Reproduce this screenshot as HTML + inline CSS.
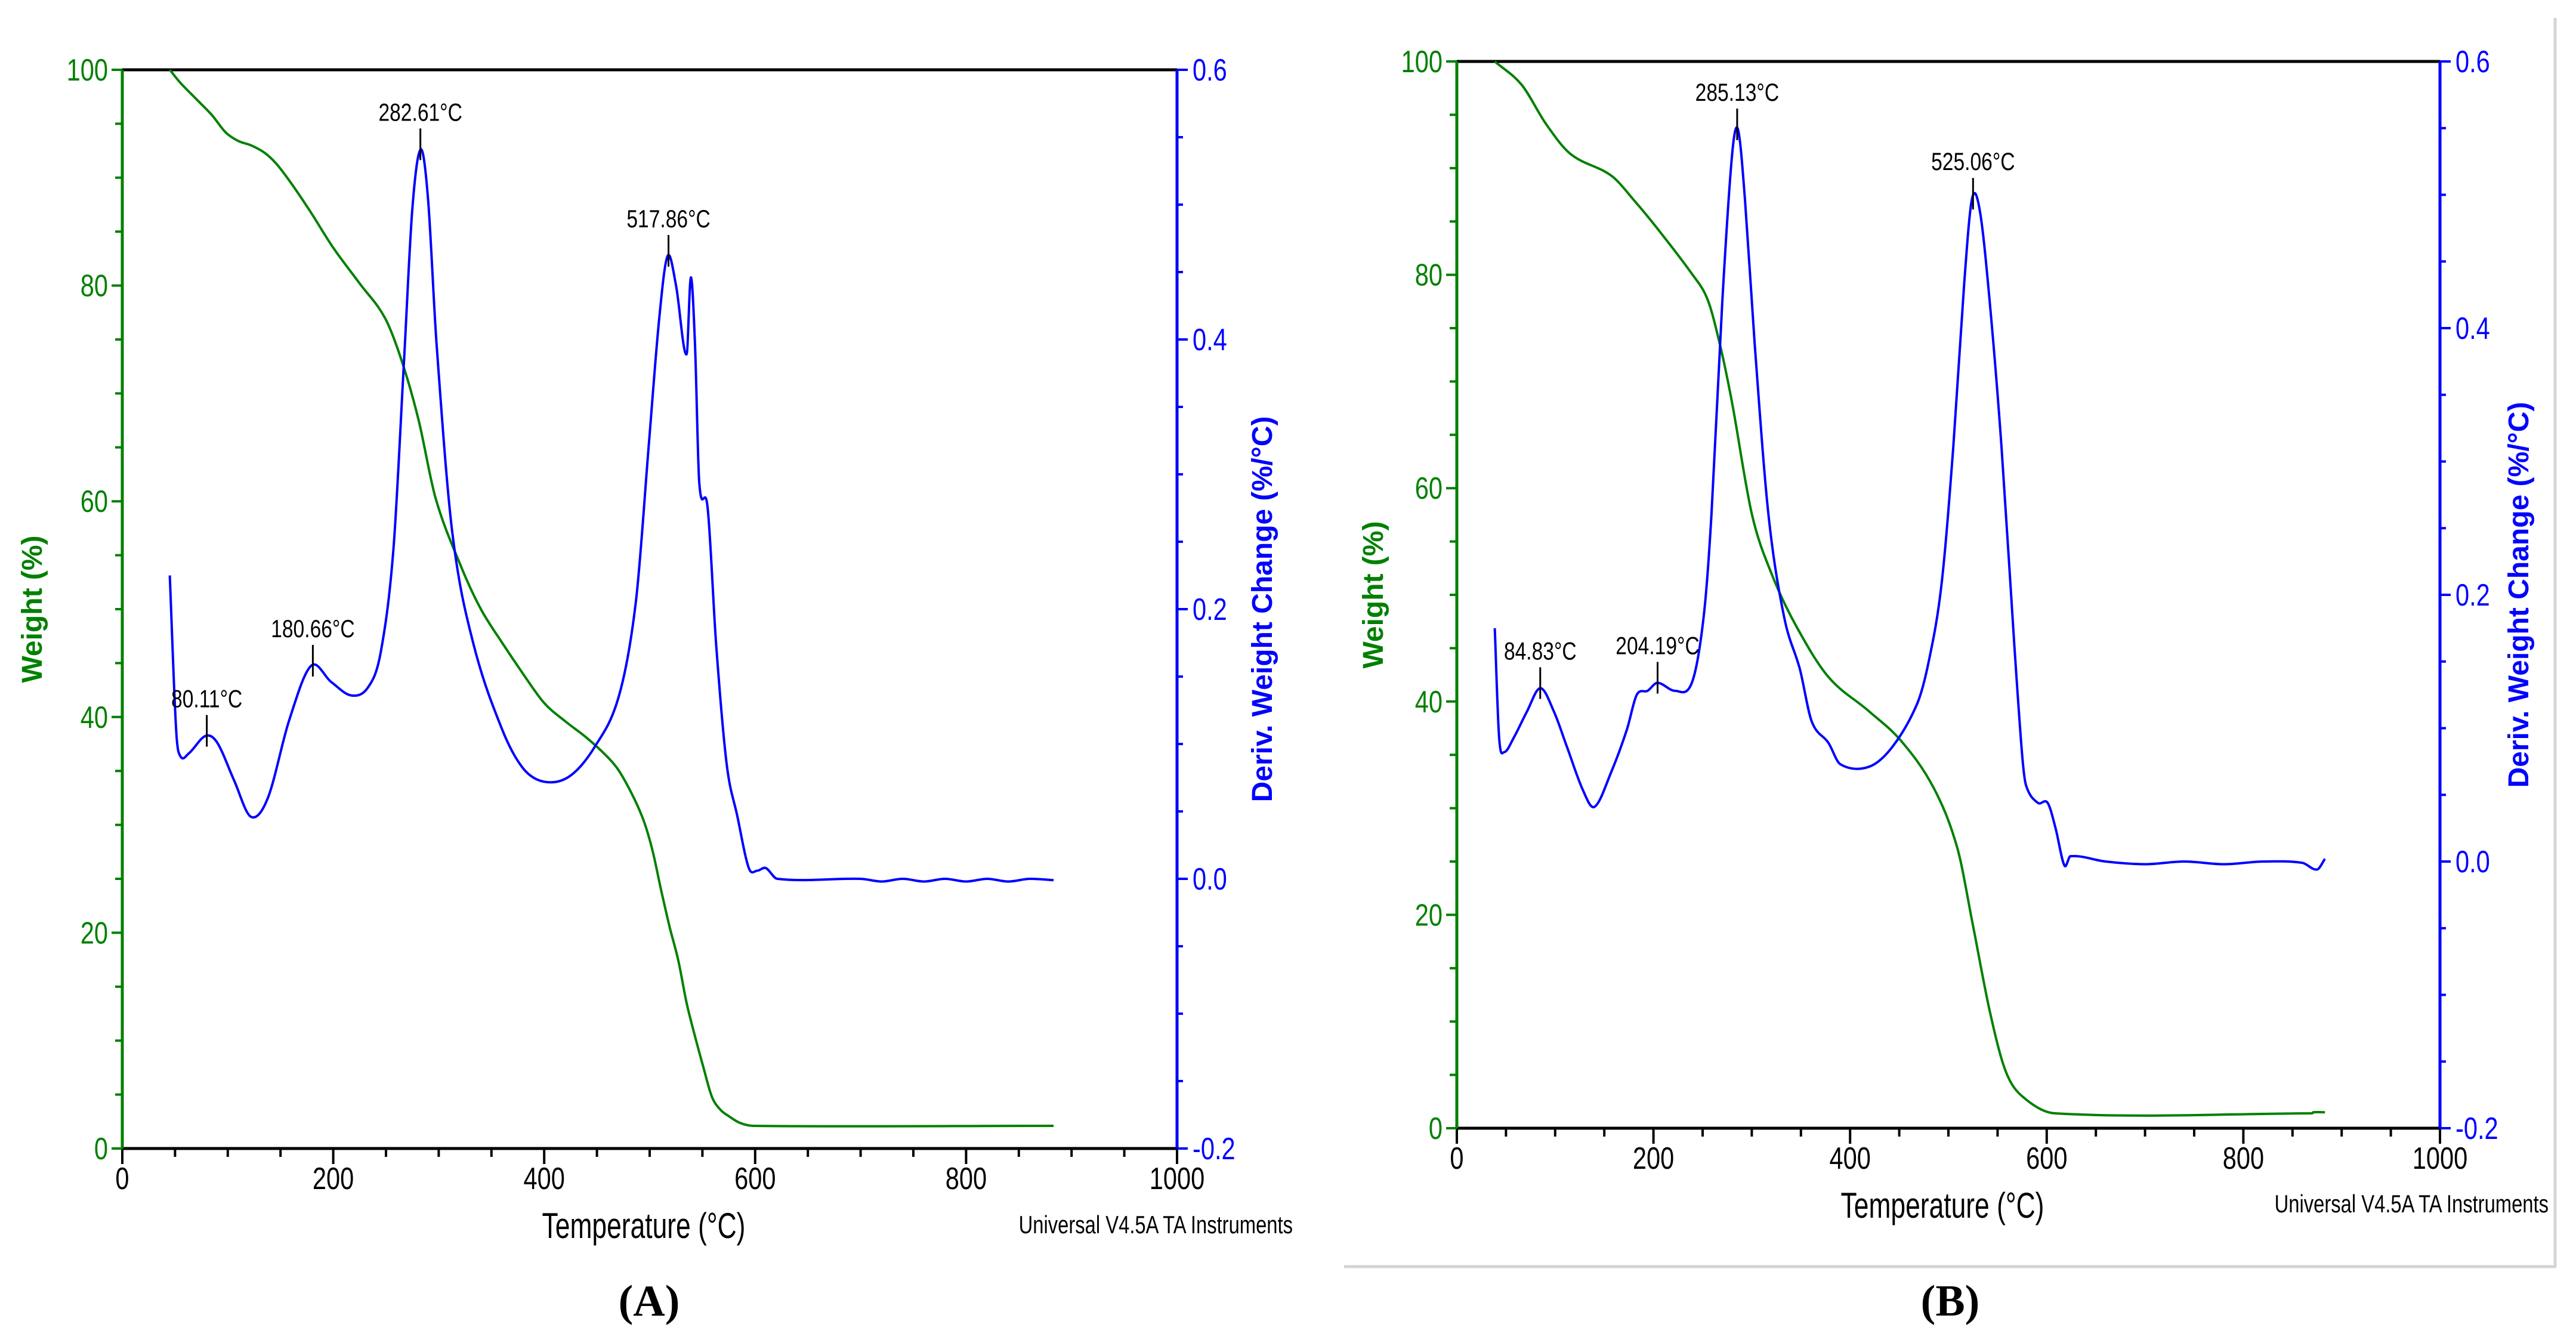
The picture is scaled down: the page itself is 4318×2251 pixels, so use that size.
<!DOCTYPE html>
<html><head><meta charset="utf-8">
<style>
html,body{margin:0;padding:0;background:#fff;}
svg{display:block;}
text{font-family:"Liberation Sans",Arial,sans-serif;}
text.cap{font-family:"Liberation Serif",serif;}
</style></head>
<body>
<svg id="fig" width="4318" height="2251" viewBox="0 0 4318 2251" xmlns="http://www.w3.org/2000/svg">
<rect x="0" y="0" width="4318" height="2251" fill="#fff"/>
<line x1="2253" y1="2123" x2="4285" y2="2123" stroke="#d4d4d4" stroke-width="5"/>
<line x1="4283" y1="30" x2="4283" y2="2123" stroke="#d4d4d4" stroke-width="5"/>
</svg>
<script>
// ---------- Panel A data ----------
const aWeightT = [45,55,70,85,98,110,122,135,146,160,178,200,225,249,265,281,297,321,340,360,380,400,420,440,460,471,485,495,503,511,519,527,535,543,551,559,567,575,585,598,883];
const aWeightV = [100,98.8,97.3,95.8,94.2,93.4,93,92.3,91.3,89.5,86.9,83.5,80.2,77,73,67.5,60.3,54,50,46.9,44,41.3,39.6,38.1,36.3,35,32.5,30.2,27.5,23.9,20.5,17.5,13.5,10.4,7.5,4.8,3.6,3.0,2.4,2.1,2.1];
const aDerivT = [45,51,55,63,79,90,106,122,138,158,179,198,217,233,245,257,267,275,283,290,298,313,333,360,380,400,424,448,471,487,499,509,517,525,535,539,543,547,555,563,573,583,594,602,610,621,700,720,740,760,780,800,820,840,860,883];
const aDerivV = [0.225,0.111,0.091,0.093,0.106,0.101,0.073,0.046,0.060,0.117,0.158,0.146,0.136,0.142,0.168,0.244,0.383,0.497,0.541,0.503,0.396,0.256,0.174,0.111,0.082,0.072,0.076,0.098,0.136,0.206,0.320,0.415,0.462,0.440,0.389,0.446,0.396,0.294,0.275,0.174,0.085,0.047,0.008,0.006,0.008,0,0,-0.002,0,-0.002,0,-0.002,0,-0.002,0,-0.001];
const aPeakT = [80.11,180.66,282.61,517.86];
const aPeakV = [0.106,0.158,0.541,0.462];
const aPeakLabels = ["80.11°C","180.66°C","282.61°C","517.86°C"];

// ---------- Panel B data ----------
const bWeightT = [38.6,66,91,116,157,181,206,239,255,267,280,300,320,345,378,419,452,485,509,525,542,558,575,608,870,871,883];
const bWeightV = [100,97.8,94.1,91.3,89.3,86.9,84.1,80.1,77.7,73.7,68,57.6,52,47.1,42.3,39.1,36.3,31.9,26.3,19.0,11,5.4,3,1.4,1.4,1.5,1.5];
const bDerivT = [38.6,43,48,58,71,85,99,112,128,140,157,173,183,194,204,222,239,251,259,270,280,286,293,303,317,333,349,361,378,390,419,443,468,480,493,505,516,524,532,542,554,567,575,579,591,601,609,618,624,660,700,740,780,820,860,875,883];
const bDerivV = [0.175,0.093,0.082,0.093,0.112,0.130,0.112,0.086,0.054,0.041,0.067,0.099,0.125,0.128,0.134,0.128,0.134,0.183,0.260,0.420,0.530,0.549,0.497,0.388,0.260,0.183,0.144,0.105,0.089,0.073,0.071,0.086,0.118,0.150,0.208,0.311,0.433,0.497,0.488,0.420,0.311,0.163,0.080,0.057,0.044,0.044,0.025,-0.003,0.004,0,-0.002,0,-0.002,0,-0.001,-0.006,0.002];
const bPeakT = [84.83,204.19,285.13,525.06];
const bPeakV = [0.130,0.134,0.549,0.497];
const bPeakLabels = ["84.83°C","204.19°C","285.13°C","525.06°C"];

// ---------- tick arrays ----------
const xTicks = [0,200,400,600,800,1000];
const wTicks = [0,20,40,60,80,100];
const dTicks = [-0.2,0.0,0.2,0.4,0.6];

const NS = "http://www.w3.org/2000/svg";
const svg = document.getElementById('fig');
function mk(tag, attrs, parent){
  const e = document.createElementNS(NS, tag);
  for (const k in attrs) e.setAttribute(k, attrs[k]);
  (parent||svg).appendChild(e);
  return e;
}
function txt(parent, s, x, y, size, fill, anchor, sx, rot, weight){
  const t = document.createElementNS(NS,'text');
  t.setAttribute('transform', 'translate('+x+','+y+')' + (rot?' rotate('+rot+')':'') + ' scale('+sx+',1)');
  t.setAttribute('font-size', size);
  t.setAttribute('fill', fill);
  t.setAttribute('text-anchor', anchor);
  if (weight) t.setAttribute('font-weight', weight);
  t.textContent = s;
  parent.appendChild(t);
  return t;
}
function smooth(pts){
  const n = pts.length;
  const m = pts.map((p,i)=>{
    const a = pts[Math.max(0,i-1)], b = pts[Math.min(n-1,i+1)];
    return (b[1]-a[1])/((b[0]-a[0])||1);
  });
  let d = 'M' + pts[0][0].toFixed(1) + ',' + pts[0][1].toFixed(1);
  for (let i=0;i<n-1;i++){
    const p1 = pts[i], p2 = pts[i+1], dx = (p2[0]-p1[0])/3;
    d += 'C' + (p1[0]+dx).toFixed(1)+','+(p1[1]+m[i]*dx).toFixed(1)+' '+(p2[0]-dx).toFixed(1)+','+(p2[1]-m[i+1]*dx).toFixed(1)+' '+p2[0].toFixed(1)+','+p2[1].toFixed(1);
  }
  return d;
}

function drawPanel(cfg){
  const g = mk('g', {});
  
  
  const L=cfg.L, R=cfg.R, T=cfg.T, B=cfg.B;
  const xs = v => L + (v/1000)*(R-L);
  const yw = v => B - (v/100)*(B-T);
  const yd = v => B - ((v+0.2)/0.8)*(B-T);

  for (let v=0; v<=1000; v+=50){
    const len = (v%200===0)?26:14;
    const tk = mk('line',{x1:xs(v),y1:B,x2:xs(v),y2:B+len,stroke:'#000','stroke-width':4},g);
    
    
  }
  for (let v=0; v<=100; v+=5){
    const len = (v%20===0)?18:12;
    const tk = mk('line',{x1:L-len,y1:yw(v),x2:L,y2:yw(v),stroke:'#008000','stroke-width':4},g);
    
    
  }
  for (let i=0; i<=16; i++){
    const v = -0.2 + i*0.05;
    const len = (i%4===0)?18:10;
    const tk = mk('line',{x1:R,y1:yd(v),x2:R+len,y2:yd(v),stroke:'#0000ff','stroke-width':4},g);
    
    
  }
  const ax1 = mk('line',{x1:L,y1:T,x2:R,y2:T,stroke:'#000','stroke-width':5},g);
   
  const ax2 = mk('line',{x1:L,y1:B,x2:R,y2:B,stroke:'#000','stroke-width':5},g);
   
  const ax3 = mk('line',{x1:L,y1:T,x2:L,y2:B,stroke:'#008000','stroke-width':5},g);
   
  const ax4 = mk('line',{x1:R,y1:T,x2:R,y2:B,stroke:'#0000ff','stroke-width':5},g);
   

  xTicks.forEach(v=>{
    const t = txt(g, String(v), xs(v), B+68, 52, '#000', 'middle', 0.8);
    
    
  });
  wTicks.forEach(v=>{
    const t = txt(g, String(v), L-24, yw(v)+18, 52, '#008000', 'end', 0.8);
    
    
  });
  dTicks.forEach(v=>{
    const t = txt(g, v.toFixed(1), R+26, yd(v)+18, 52, '#0000ff', 'start', 0.8);
    
    
  });

  const wp = cfg.wT.map((t,i)=>[xs(t), yw(cfg.wV[i])]);
  const p1 = mk('path',{d:smooth(wp),fill:'none',stroke:'#008000','stroke-width':4,'stroke-linejoin':'round'},g);
  
  
  const dp = cfg.dT.map((t,i)=>[xs(t), yd(cfg.dV[i])]);
  const p2 = mk('path',{d:smooth(dp),fill:'none',stroke:'#0000ff','stroke-width':4,'stroke-linejoin':'round'},g);
  
  

  cfg.pT.forEach((t,i)=>{
    const x = xs(t), y = yd(cfg.pV[i]);
    const mkr = mk('line',{x1:x,y1:y-35,x2:x,y2:y+18,stroke:'#000','stroke-width':3},g);
    
    
    const lb = txt(g, cfg.pL[i], x, y-48, 42, '#000', 'middle', 0.8);
    
    
  });

  const xt = txt(g, 'Temperature (°C)', (L+R)/2 - 10, B+150, 60, '#000', 'middle', 0.74);
  
  
  const wt = txt(g, 'Weight  (%)', cfg.wLabX, (T+B)/2, 48, '#008000', 'middle', 1, -90, 'bold');
  
  
  const dt = txt(g, 'Deriv. Weight Change (%/°C)', cfg.dLabX, (T+B)/2, 48, '#0000ff', 'middle', 1, -90, 'bold');
  
  
  const ut = txt(g, 'Universal V4.5A TA Instruments', cfg.uX, cfg.uY, 42, '#000', 'end', 0.78);
  
  
  const pl = mk('text',{x:cfg.capX,y:2205,'font-size':74,'font-weight':'bold','text-anchor':'middle',fill:'#000','class':'cap'},g);
  pl.textContent = cfg.cap;
  
  
}

drawPanel({id:'panel-a',L:205,R:1973,T:117,B:1925,wT:aWeightT,wV:aWeightV,dT:aDerivT,dV:aDerivV,pT:aPeakT,pV:aPeakV,pL:aPeakLabels,wLabX:70,dLabX:2132,uX:2167,uY:2067,capX:1088,cap:'(A)'});
drawPanel({id:'panel-b',L:2442,R:4090,T:103,B:1891,wT:bWeightT,wV:bWeightV,dT:bDerivT,dV:bDerivV,pT:bPeakT,pV:bPeakV,pL:bPeakLabels,wLabX:2318,dLabX:4238,uX:4272,uY:2032,capX:3269,cap:'(B)'});
</script>
</body></html>
